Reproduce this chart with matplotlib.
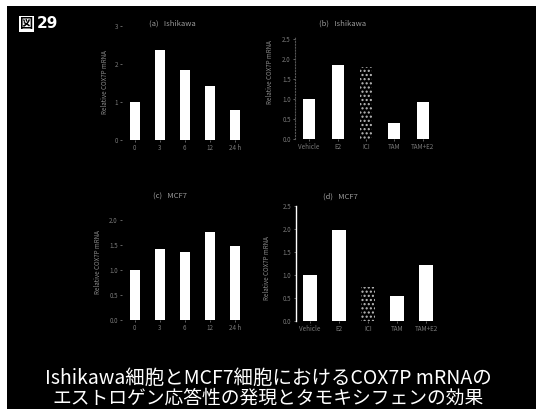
import matplotlib.pyplot as plt
import matplotlib.patches as mpatches

plt.rcParams['font.family'] = ['Noto Sans CJK JP', 'DejaVu Sans']

# relative COX7P mRNA levels (vehicle / time 0 = 1)
time_labels = ['0', '3', '6', '12', '24 h']
treat_labels = ['Vehicle', 'E2', 'ICI', 'TAM', 'TAM+E2']
ishikawa_time = [1.0, 2.37, 1.84, 1.42, 0.79]
ishikawa_treat = [1.0, 1.85, 1.80, 0.40, 0.93]
mcf7_time = [1.0, 1.42, 1.36, 1.76, 1.48]
mcf7_treat = [1.0, 1.98, 0.74, 0.54, 1.22]
dotted_bar = [False, False, True, False, False]

W, H = 536, 409
fig = plt.figure(figsize=(W / 100, H / 100), dpi=100, facecolor='black')

# white strips along the top and left edge of the slide
fig.patches.append(mpatches.Rectangle((0, 0), 7 / W, 1, transform=fig.transFigure,
                                      facecolor='white', edgecolor='none'))
fig.patches.append(mpatches.Rectangle((0, 1 - 6 / H), 1, 6 / H, transform=fig.transFigure,
                                      facecolor='white', edgecolor='none'))


def px(x, y):
    return x / W, 1 - y / H


def add_panel(left, top, right, bottom):
    ax = fig.add_axes([left / W, 1 - bottom / H, (right - left) / W, (bottom - top) / H])
    ax.set_facecolor('black')
    for s in ax.spines.values():
        s.set_visible(False)
    ax.tick_params(colors='#8a8a8a', labelsize=4.5, length=1.5, width=0.5, pad=1.5)
    return ax


faint = '#9a9a9a'

# (a) Ishikawa, time course
ax1 = add_panel(122, 24, 250, 140)
ax1.bar(range(len(ishikawa_time)), ishikawa_time, width=0.4, color='white')
ax1.set_xlim(-0.5, 4.6)
ax1.set_ylim(0, 3.05)
ax1.set_yticks([0, 1, 2, 3])
ax1.set_xticks(range(len(time_labels)), time_labels)

# (b) Ishikawa, treatments
ax2 = add_panel(295, 37, 451, 139)
for i, v in enumerate(ishikawa_treat):
    if dotted_bar[i]:
        ax2.bar(i, v, width=0.42, color='black', edgecolor='#bdbdbd', hatch='....', linewidth=0)
    else:
        ax2.bar(i, v, width=0.42, color='white')
ax2.set_xlim(-0.5, 5.0)
ax2.set_ylim(0, 2.55)
ax2.set_yticks([0, 0.5, 1, 1.5, 2, 2.5])
ax2.set_xticks(range(len(treat_labels)), treat_labels)
ax2.spines['left'].set_visible(True)
ax2.spines['left'].set_color('#555555')
ax2.spines['left'].set_linestyle(':')

# (c) MCF7, time course
ax3 = add_panel(122, 200, 250, 320)
ax3.bar(range(len(mcf7_time)), mcf7_time, width=0.4, color='white')
ax3.set_xlim(-0.5, 4.6)
ax3.set_ylim(0, 2.4)
ax3.set_yticks([0, 0.5, 1, 1.5, 2])
ax3.set_xticks(range(len(time_labels)), time_labels)

# (d) MCF7, treatments
ax4 = add_panel(295.5, 206, 455, 321)
for i, v in enumerate(mcf7_treat):
    if dotted_bar[i]:
        ax4.bar(i, v, width=0.45, color='black', edgecolor='#bdbdbd', hatch='....', linewidth=0)
    else:
        ax4.bar(i, v, width=0.45, color='white')
ax4.set_xlim(-0.5, 5.0)
ax4.set_ylim(0, 2.5)
ax4.set_yticks([0, 0.5, 1, 1.5, 2, 2.5])
ax4.set_xticks(range(len(treat_labels)), treat_labels)
ax4.spines['left'].set_visible(True)
ax4.spines['left'].set_color('white')
ax4.spines['left'].set_linewidth(1.0)

for ax in (ax1, ax2, ax3, ax4):
    for lab in ax.get_xticklabels() + ax.get_yticklabels():
        lab.set_color('#7a7a7a')

# panel titles and axis labels
fig.text(*px(172, 24), '(a)   Ishikawa', color=faint, fontsize=5.5, ha='center', va='center')
fig.text(*px(343, 24), '(b)   Ishikawa', color=faint, fontsize=5.5, ha='center', va='center')
fig.text(*px(170, 197), '(c)   MCF7', color=faint, fontsize=5.5, ha='center', va='center')
fig.text(*px(340, 197), '(d)   MCF7', color=faint, fontsize=5.5, ha='center', va='center')
for x, y in [(105, 82), (270, 72), (98, 262), (267, 268)]:
    fig.text(*px(x, y), 'Relative COX7P mRNA', color='#8a8a8a', fontsize=4.5,
             rotation=90, ha='center', va='center')

# figure number
fig.text(*px(20, 24), '図', color='black', fontsize=9.5, fontweight='bold', ha='left', va='center',
         bbox=dict(facecolor='white', edgecolor='none', pad=0.4))
fig.text(*px(37, 24), '29', color='white', fontsize=11, fontweight='bold', ha='left', va='center',
         family='DejaVu Sans')

# caption
fig.text(*px(268, 378), 'Ishikawa細胞とMCF7細胞におけるCOX7P mRNAの',
         color='white', fontsize=14, ha='center', va='center')
fig.text(*px(268, 398), 'エストロゲン応答性の発現とタモキシフェンの効果',
         color='white', fontsize=13.5, ha='center', va='center')

fig.savefig('out.png', dpi=100, facecolor='black')
